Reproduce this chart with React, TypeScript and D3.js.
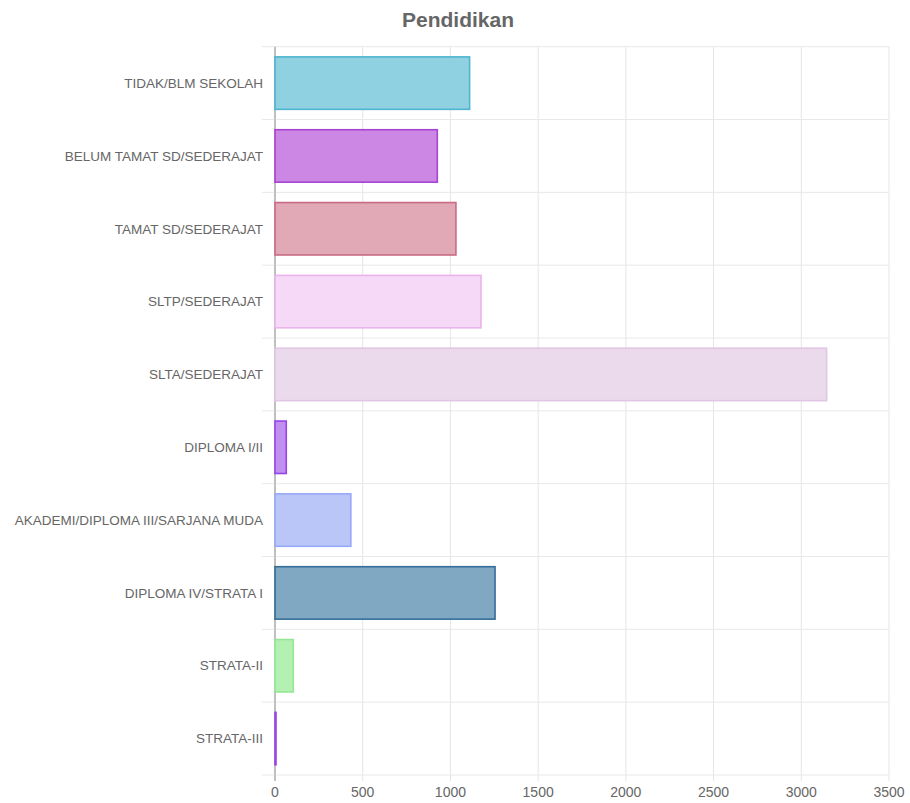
import React from 'react';
import * as d3 from 'd3';

const width = 910;
const height = 803;
const margin = {top: 46.7, right: 21, bottom: 28, left: 275};

const categories = [
  'TIDAK/BLM SEKOLAH',
  'BELUM TAMAT SD/SEDERAJAT',
  'TAMAT SD/SEDERAJAT',
  'SLTP/SEDERAJAT',
  'SLTA/SEDERAJAT',
  'DIPLOMA I/II',
  'AKADEMI/DIPLOMA III/SARJANA MUDA',
  'DIPLOMA IV/STRATA I',
  'STRATA-II',
  'STRATA-III',
];
const values = [1115, 931, 1037, 1180, 3150, 70, 438, 1260, 110, 8];
const fills = [
  '#8fd1e1', '#cb87e3', '#e0a9b5', '#f6d9f6', '#ebdaec',
  '#c08ff0', '#bac6f8', '#80a8c3', '#b3f1b3', '#b98cf0',
];
const borders = [
  '#4db5cf', '#a744d3', '#c96b84', '#eab3ec', '#e1c5e4',
  '#9744e6', '#97a8f8', '#346d98', '#95e695', '#9a44e6',
];
const xTicks = [0, 500, 1000, 1500, 2000, 2500, 3000, 3500];
const title = 'Pendidikan';

const font = '"Liberation Sans", Arial, Helvetica, sans-serif';

const App: React.FC = () => {
  const xScale = d3.scaleLinear()
    .domain([0, 3500])
    .range([margin.left, width - margin.right]);

  const yBand = d3.scaleBand()
    .domain(categories)
    .range([margin.top, height - margin.bottom]);

  const bandW = yBand.bandwidth();
  const barH = bandW * 0.72;
  const plotBottom = height - margin.bottom;

  return (
    <svg width={width} height={height}
      style={{position: 'absolute', left: 0, top: 0, display: 'block', background: '#fff'}}>
      <text x={458} y={27} textAnchor='middle' fontFamily={font} fontSize={21}
        fontWeight='bold' fill='#666'>{title}</text>

      {/* vertical grid */}
      {xTicks.map(t => (
        <line key={`vx${t}`} x1={xScale(t)} x2={xScale(t)} y1={margin.top} y2={plotBottom + 6}
          stroke={t === 0 ? '#b0b0b0' : '#e5e5e5'} strokeWidth={1} />
      ))}
      {/* horizontal grid at band boundaries */}
      {d3.range(categories.length + 1).map(i => {
        const y = margin.top + i * bandW;
        return (
          <line key={`hy${i}`} x1={margin.left - 13} x2={width - margin.right} y1={y} y2={y}
            stroke='#e8e8e8' strokeWidth={1} />
        );
      })}
      <line x1={margin.left} x2={margin.left} y1={margin.top} y2={plotBottom + 6}
        stroke='#a8a8a8' strokeWidth={1} />

      {/* bars */}
      {categories.map((c, i) => {
        const y0 = (yBand(c) as number) + (bandW - barH) / 2;
        const w = xScale(values[i]) - xScale(0);
        return (
          <rect key={c} x={xScale(0)} y={y0} width={Math.max(w - 1, 1)} height={barH}
            fill={fills[i]} stroke={borders[i]} strokeWidth={1.6} />
        );
      })}

      {/* category labels */}
      {categories.map(c => (
        <text key={`l${c}`} x={margin.left - 12} y={(yBand(c) as number) + bandW / 2}
          dy='0.35em' textAnchor='end' fontFamily={font} fontSize={13.5} fill='#666'>{c}</text>
      ))}

      {/* x tick labels */}
      {xTicks.map(t => (
        <text key={`t${t}`} x={xScale(t)} y={797} textAnchor='middle'
          fontFamily={font} fontSize={14} fill='#666'>{t}</text>
      ))}
    </svg>
  );
};

export default App;
